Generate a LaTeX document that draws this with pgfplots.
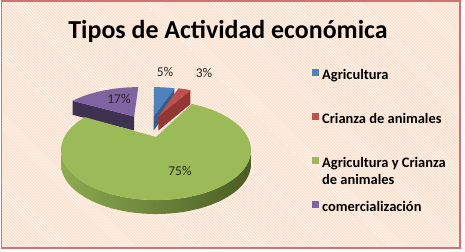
\documentclass[border=0pt]{standalone}
\usepackage{pgfplots}
\pgfplotsset{compat=1.18}
\usepackage{pgfplotstable}
\usetikzlibrary{patterns}
\usepackage{fontspec}
\setmainfont{Carlito}

\definecolor{bgc}{HTML}{FAE0CC}
\definecolor{brd}{HTML}{C0504D}
\definecolor{cblue}{HTML}{4F81BD}
\definecolor{cbluew}{HTML}{385D8A}
\definecolor{cred}{HTML}{C0504D}
\definecolor{credw}{HTML}{943634}
\definecolor{cgreen}{HTML}{9BBB59}
\definecolor{cgreenl}{HTML}{8DAB50}
\definecolor{cgreend}{HTML}{4A5C24}
\definecolor{cpurple}{HTML}{8064A2}
\definecolor{cpurplew}{HTML}{3F3151}
\definecolor{lbl}{HTML}{262626}

\pgfplotstableread{
label value
Agricultura 5
Crianza 3
AgriCrianza 75
Comercializacion 17
}\piedata

% top face of a slice: #1 start angle, #2 end angle (clockwise from 12 o'clock), #3 du, #4 dv, #5 colour
\newcommand\slicetop[5]{%
\addplot[forget plot, fill=#5, draw=none, samples at={-1,0,...,73}, variable=\s]
 ({PX(RR(\s)*sin(TT(\s,#1,#2))+#3, RR(\s)*cos(TT(\s,#1,#2))+#4)},
  {PY(RR(\s)*cos(TT(\s,#1,#2))+#4)});}
% radial wall at angle #1
\newcommand\slicecut[4]{%
\addplot[forget plot, fill=#4, draw=none, samples at={0,1,2,3}, variable=\s]
 ({PX(RW(\s)*sin(#1)+#2, RW(\s)*cos(#1)+#3)},
  {PY(RW(\s)*cos(#1)+#3)-14*(\s>1.5)});}
% outer wall between #1 and #2
\newcommand\sliceside[6]{%
\addplot[forget plot, left color=#5, right color=#6, draw=none, samples at={0,1,...,101}, variable=\s]
 ({PX(sin(TS(\s,#1,#2))+#3, cos(TS(\s,#1,#2))+#4)},
  {PY(cos(TS(\s,#1,#2))+#4)-14*(\s>50.5)});}

\begin{document}
\begin{tikzpicture}
\pgfplotstablegetelem{0}{value}\of\piedata \let\vA\pgfplotsretval
\pgfplotstablegetelem{1}{value}\of\piedata \let\vB\pgfplotsretval
\pgfplotstablegetelem{2}{value}\of\piedata \let\vC\pgfplotsretval
\pgfplotstablegetelem{3}{value}\of\piedata \let\vD\pgfplotsretval
\pgfmathsetmacro\tot{\vA+\vB+\vC+\vD}
\pgfmathsetmacro\deg{360/\tot}
\pgfmathsetmacro\aA{\vA*\deg}
\pgfmathsetmacro\aB{\aA+\vB*\deg}
\pgfmathsetmacro\aC{\aB+\vC*\deg}
\pgfmathsetmacro\aD{\aC+\vD*\deg}

\useasboundingbox (0,0) rectangle (465bp,252bp);
\fill[white] (0,0) rectangle (465bp,252bp);
\fill[bgc] (1.5bp,4bp) rectangle (460bp,251bp);
\fill[pattern=north west lines, pattern color=white] (1.5bp,4bp) rectangle (460bp,251bp);
\draw[brd!80, line width=1.1bp] (1.5bp,4bp) rectangle (460bp,251bp);

\begin{axis}[at={(0,0)}, anchor=south west, width=465bp, height=252bp,
  scale only axis, xmin=0, xmax=465, ymin=0, ymax=252, hide axis, clip=false,
  declare function={
    PX(\u,\v)=156+91.6*\u/(1+0.264*\v);
    PY(\v)=115+46.4*\v/(1+0.264*\v);
    RR(\s)=(\s>=0)*(\s<=72);
    TT(\s,\a,\b)=\a+(\b-\a)*min(max(\s,0),72)/72;
    RW(\s)=(\s>0.5)*(\s<2.5);
    TS(\s,\a,\b)=(\s<=50)*(\a+(\b-\a)*\s/50)+(\s>50)*(\b-(\b-\a)*(\s-51)/50);
  },
  legend image code/.code={\fill[#1] (0bp,0bp) rectangle (7bp,7bp);},
  legend style={at={(309/465,187.5/252)}, anchor=north west, draw=none, fill=none,
    font=\bfseries\fontsize{14.5}{17}\selectfont, row sep=26bp, column sep=1bp,
    nodes={text height=10.5bp, text depth=3.5bp}},
  legend cell align=left,
]
% purple (exploded)
\slicecut{\aC}{-0.27}{0.50}{cpurplew}
\slicetop{\aC}{\aD}{-0.27}{0.50}{cpurple}
% blue
\slicecut{\aA}{-0.03}{0.50}{cbluew}
\slicetop{0}{\aA}{-0.03}{0.50}{cblue}
% red
\slicecut{\aB}{0.03}{0.50}{credw}
\slicetop{\aA}{\aB}{0.03}{0.50}{cred}
% green
\sliceside{105.3}{254.7}{0}{0}{cgreenl}{cgreend}
\slicetop{\aB}{\aC}{0}{0}{cgreen}

\addlegendimage{fill=cblue, draw=none}
\addlegendentry{Agricultura}
\addlegendimage{fill=cred, draw=none}
\addlegendentry{Crianza de animales}
\addlegendimage{fill=cgreen, draw=none}
\addlegendentry{{\begin{tabular}[t]{@{}l@{}}Agricultura y Crianza\\de animales\end{tabular}}}
\addlegendimage{fill=cpurple, draw=none}
\addlegendentry{comercialización}

\node[font=\fontsize{13.5}{16}\selectfont, text=lbl] at (axis cs:165,180) {5\%};
\node[font=\fontsize{13.5}{16}\selectfont, text=lbl] at (axis cs:204,179) {3\%};
\node[font=\fontsize{13.5}{16}\selectfont, text=lbl] at (axis cs:119,153) {17\%};
\node[font=\fontsize{13.5}{16}\selectfont, text=lbl] at (axis cs:180,81) {75\%};
\node[font=\bfseries\fontsize{26}{30}\selectfont, anchor=base] at (axis cs:228,213) {Tipos de Actividad económica};
\end{axis}
\end{tikzpicture}
\end{document}
